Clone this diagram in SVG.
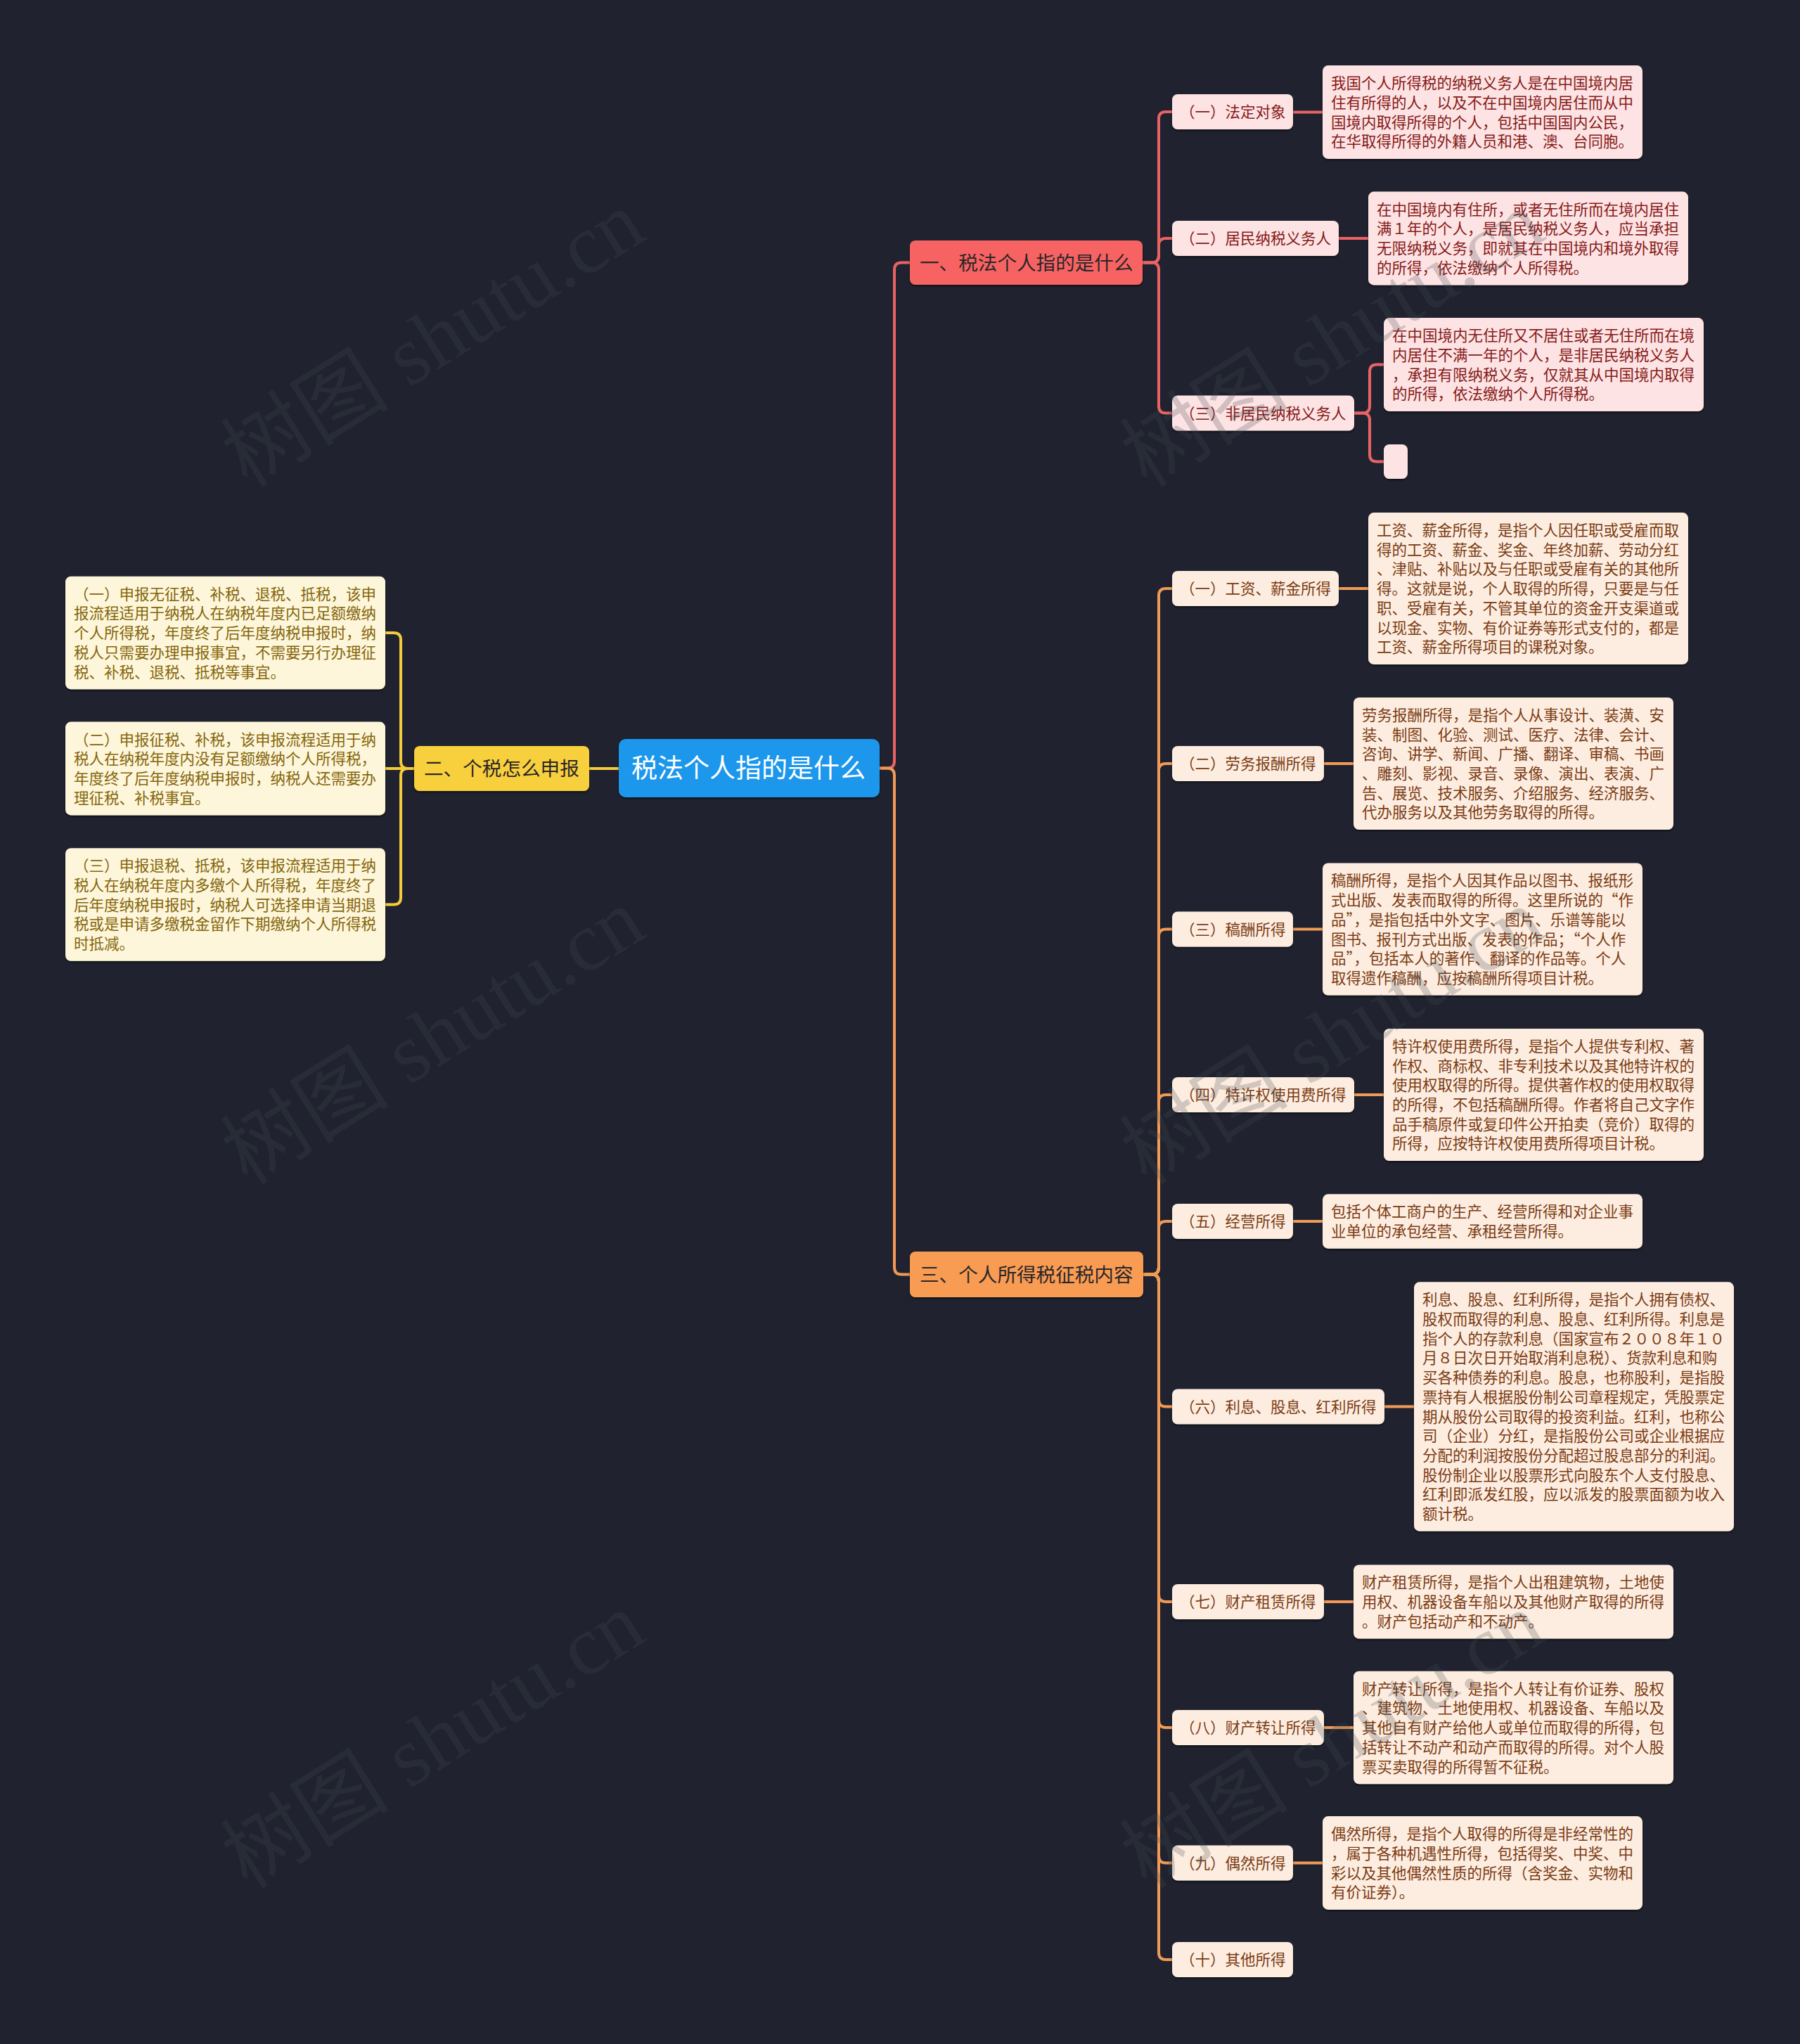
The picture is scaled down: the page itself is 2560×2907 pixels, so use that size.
<svg xmlns="http://www.w3.org/2000/svg" width="2560" height="2907" viewBox="0 0 2560 2907">
<defs>
<filter id="sh" x="-5%" y="-10%" width="110%" height="130%">
<feDropShadow dx="0" dy="2" stdDeviation="1.5" flood-color="#000" flood-opacity="0.55"/>
</filter>
</defs>
<style>
text{font-family:"Liberation Sans","Noto Sans CJK SC",sans-serif;}
.q{font-family:"Noto Sans CJK SC","Liberation Sans",sans-serif;}
.c{fill:none;stroke-width:4;stroke-linecap:round;stroke-linejoin:round;}
.cr{stroke:#e96363;}
.cy{stroke:#f3cb3b;}
.co{stroke:#f09a56;}
.box{filter:url(#sh);}
.root{fill:#1d97ec;}
.rootT{fill:#ffffff;font-size:37px;}
.l1r{fill:#f76464;}
.l1y{fill:#f8cf3e;}
.l1o{fill:#f89b52;}
.l1T{fill:#2a2628;font-size:27.6px;}
.pr{fill:#fde3e3;}
.py{fill:#fdf6da;}
.po{fill:#fdede0;}
.tr{fill:#861a1a;font-size:21.5px;}
.ty{fill:#85660c;font-size:21.5px;}
.to{fill:#7b3c14;font-size:21.5px;}
.wm{font-family:"Liberation Serif","Noto Sans CJK SC",serif;font-size:120px;fill:#444a55;fill-opacity:0.24;}
</style>
<rect width="2560" height="2907" fill="#20232f"/>

<g id="connectors">
<path class="c cr" d="M1251,1092.5 H1262 Q1272,1092.5 1272,1082.5 V383.5 Q1272,373.5 1282,373.5 H1294"/>
<path class="c co" d="M1251,1092.5 H1262 Q1272,1092.5 1272,1102.5 V1802.5 Q1272,1812.5 1282,1812.5 H1294"/>
<path class="c cy" d="M880,1093 H838"/>
<path class="c cy" d="M589,1093 H580 Q570,1093 570,1083 V910 Q570,900 560,900 H548"/>
<path class="c cy" d="M589,1093 H548"/>
<path class="c cy" d="M589,1093 H580 Q570,1093 570,1103 V1276.5 Q570,1286.5 560,1286.5 H548"/>
<path class="c cr" d="M1625,373.5 H1638 Q1648,373.5 1648,363.5 V169 Q1648,159 1658,159 H1667"/>
<path class="c cr" d="M1625,373.5 H1638 Q1648,373.5 1648,363.5 V349 Q1648,339 1658,339 H1667"/>
<path class="c cr" d="M1625,373.5 H1638 Q1648,373.5 1648,383.5 V577.5 Q1648,587.5 1658,587.5 H1667"/>
<path class="c cr" d="M1839,159.5 H1881"/>
<path class="c cr" d="M1904,339 H1946"/>
<path class="c cr" d="M1926,587.5 H1938 Q1948,587.5 1948,577.5 V528.5 Q1948,518.5 1958,518.5 H1968"/>
<path class="c cr" d="M1926,587.5 H1938 Q1948,587.5 1948,597.5 V646.5 Q1948,656.5 1958,656.5 H1968"/>
<path class="c co" d="M1626,1812.5 H1638 Q1648,1812.5 1648,1802.5 V847 Q1648,837 1658,837 H1667"/>
<path class="c co" d="M1626,1812.5 H1638 Q1648,1812.5 1648,1802.5 V1096 Q1648,1086 1658,1086 H1667"/>
<path class="c co" d="M1626,1812.5 H1638 Q1648,1812.5 1648,1802.5 V1331.5 Q1648,1321.5 1658,1321.5 H1667"/>
<path class="c co" d="M1626,1812.5 H1638 Q1648,1812.5 1648,1802.5 V1567 Q1648,1557 1658,1557 H1667"/>
<path class="c co" d="M1626,1812.5 H1638 Q1648,1812.5 1648,1802.5 V1747 Q1648,1737 1658,1737 H1667"/>
<path class="c co" d="M1626,1812.5 H1638 Q1648,1812.5 1648,1822.5 V1990.5 Q1648,2000.5 1658,2000.5 H1667"/>
<path class="c co" d="M1626,1812.5 H1638 Q1648,1812.5 1648,1822.5 V2268 Q1648,2278 1658,2278 H1667"/>
<path class="c co" d="M1626,1812.5 H1638 Q1648,1812.5 1648,1822.5 V2447 Q1648,2457 1658,2457 H1667"/>
<path class="c co" d="M1626,1812.5 H1638 Q1648,1812.5 1648,1822.5 V2639.5 Q1648,2649.5 1658,2649.5 H1667"/>
<path class="c co" d="M1626,1812.5 H1638 Q1648,1812.5 1648,1822.5 V2777 Q1648,2787 1658,2787 H1667"/>
<path class="c co" d="M1904,837 H1946"/>
<path class="c co" d="M1883,1086 H1925"/>
<path class="c co" d="M1839,1321.5 H1881"/>
<path class="c co" d="M1926,1557 H1968"/>
<path class="c co" d="M1839,1737 H1881"/>
<path class="c co" d="M1969,2000.5 H2011"/>
<path class="c co" d="M1883,2278 H1925"/>
<path class="c co" d="M1883,2457 H1925"/>
<path class="c co" d="M1839,2649.5 H1881"/>
</g>

<g id="root">
<rect class="root box" x="880" y="1051" width="371" height="83" rx="10"/>
<text class="rootT" x="898" y="1106">税法个人指的是什么</text>
</g>

<g id="n1">
<rect class="l1r box" x="1294" y="342" width="331" height="63" rx="8"/>
<text class="l1T" x="1308" y="383.5">一、税法个人指的是什么</text>
</g>
<g id="n2">
<rect class="l1y box" x="589" y="1061" width="249" height="64" rx="8"/>
<text class="l1T" x="603" y="1103">二、个税怎么申报</text>
</g>
<g id="n3">
<rect class="l1o box" x="1294" y="1780" width="332" height="65" rx="8"/>
<text class="l1T" x="1308" y="1822.5">三、个人所得税征税内容</text>
</g>

<g id="y1">
<rect class="py box" x="93" y="819.75" width="455" height="160.5" rx="8"/>
<text class="ty" x="105"><tspan x="105" y="852.75">（一）申报无征税、补税、退税、抵税，该申</tspan><tspan x="105" y="880.45">报流程适用于纳税人在纳税年度内已足额缴纳</tspan><tspan x="105" y="908.15">个人所得税，年度终了后年度纳税申报时，纳</tspan><tspan x="105" y="935.85">税人只需要办理申报事宜，不需要另行办理征</tspan><tspan x="105" y="963.55">税、补税、退税、抵税等事宜。</tspan></text>
</g>
<g id="y2">
<rect class="py box" x="93" y="1026.6" width="455" height="132.8" rx="8"/>
<text class="ty" x="105"><tspan x="105" y="1059.6">（二）申报征税、补税，该申报流程适用于纳</tspan><tspan x="105" y="1087.3">税人在纳税年度内没有足额缴纳个人所得税，</tspan><tspan x="105" y="1115">年度终了后年度纳税申报时，纳税人还需要办</tspan><tspan x="105" y="1142.7">理征税、补税事宜。</tspan></text>
</g>
<g id="y3">
<rect class="py box" x="93" y="1206.25" width="455" height="160.5" rx="8"/>
<text class="ty" x="105"><tspan x="105" y="1239.25">（三）申报退税、抵税，该申报流程适用于纳</tspan><tspan x="105" y="1266.95">税人在纳税年度内多缴个人所得税，年度终了</tspan><tspan x="105" y="1294.65">后年度纳税申报时，纳税人可选择申请当期退</tspan><tspan x="105" y="1322.35">税或是申请多缴税金留作下期缴纳个人所得税</tspan><tspan x="105" y="1350.05">时抵减。</tspan></text>
</g>

<g id="r1">
<rect class="pr box" x="1667" y="134" width="172" height="50" rx="8"/>
<text class="tr" x="1678" y="167">（一）法定对象</text>
</g>
<g id="r2">
<rect class="pr box" x="1667" y="314" width="237" height="50" rx="8"/>
<text class="tr" x="1678" y="347">（二）居民纳税义务人</text>
</g>
<g id="r3">
<rect class="pr box" x="1667" y="562.5" width="259" height="50" rx="8"/>
<text class="tr" x="1678" y="595.5">（三）非居民纳税义务人</text>
</g>
<g id="r1a">
<rect class="pr box" x="1881" y="93.1" width="455" height="132.8" rx="8"/>
<text class="tr"><tspan x="1893" y="126.1">我国个人所得税的纳税义务人是在中国境内居</tspan><tspan x="1893" y="153.8">住有所得的人，以及不在中国境内居住而从中</tspan><tspan x="1893" y="181.5">国境内取得所得的个人，包括中国国内公民，</tspan><tspan x="1893" y="209.2">在华取得所得的外籍人员和港、澳、台同胞。</tspan></text>
</g>
<g id="r2a">
<rect class="pr box" x="1946" y="272.6" width="455" height="132.8" rx="8"/>
<text class="tr"><tspan x="1958" y="305.6">在中国境内有住所，或者无住所而在境内居住</tspan><tspan x="1958" y="333.3">满１年的个人，是居民纳税义务人，应当承担</tspan><tspan x="1958" y="361">无限纳税义务，即就其在中国境内和境外取得</tspan><tspan x="1958" y="388.7">的所得，依法缴纳个人所得税。</tspan></text>
</g>
<g id="r3a">
<rect class="pr box" x="1968" y="452.1" width="455" height="132.8" rx="8"/>
<text class="tr"><tspan x="1980" y="485.1">在中国境内无住所又不居住或者无住所而在境</tspan><tspan x="1980" y="512.8">内居住不满一年的个人，是非居民纳税义务人</tspan><tspan x="1980" y="540.5">，承担有限纳税义务，仅就其从中国境内取得</tspan><tspan x="1980" y="568.2">的所得，依法缴纳个人所得税。</tspan></text>
</g>
<g id="r3b">
<rect class="pr box" x="1968" y="632" width="34" height="49" rx="8"/>
</g>

<g id="o1">
<rect class="po box" x="1667" y="812" width="237" height="50" rx="8"/>
<text class="to" x="1678" y="845">（一）工资、薪金所得</text>
</g>
<g id="o1a">
<rect class="po box" x="1946" y="729.05" width="455" height="215.9" rx="8"/>
<text class="to"><tspan x="1958" y="762.05">工资、薪金所得，是指个人因任职或受雇而取</tspan><tspan x="1958" y="789.75">得的工资、薪金、奖金、年终加薪、劳动分红</tspan><tspan x="1958" y="817.45">、津贴、补贴以及与任职或受雇有关的其他所</tspan><tspan x="1958" y="845.15">得。这就是说，个人取得的所得，只要是与任</tspan><tspan x="1958" y="872.85">职、受雇有关，不管其单位的资金开支渠道或</tspan><tspan x="1958" y="900.55">以现金、实物、有价证券等形式支付的，都是</tspan><tspan x="1958" y="928.25">工资、薪金所得项目的课税对象。</tspan></text>
</g>
<g id="o2">
<rect class="po box" x="1667" y="1061" width="216" height="50" rx="8"/>
<text class="to" x="1678" y="1094">（二）劳务报酬所得</text>
</g>
<g id="o2a">
<rect class="po box" x="1925" y="991.9" width="455" height="188.2" rx="8"/>
<text class="to"><tspan x="1937" y="1024.9">劳务报酬所得，是指个人从事设计、装潢、安</tspan><tspan x="1937" y="1052.6">装、制图、化验、测试、医疗、法律、会计、</tspan><tspan x="1937" y="1080.3">咨询、讲学、新闻、广播、翻译、审稿、书画</tspan><tspan x="1937" y="1108">、雕刻、影视、录音、录像、演出、表演、广</tspan><tspan x="1937" y="1135.7">告、展览、技术服务、介绍服务、经济服务、</tspan><tspan x="1937" y="1163.4">代办服务以及其他劳务取得的所得。</tspan></text>
</g>
<g id="o3">
<rect class="po box" x="1667" y="1296.5" width="172" height="50" rx="8"/>
<text class="to" x="1678" y="1329.5">（三）稿酬所得</text>
</g>
<g id="o3a">
<rect class="po box" x="1881" y="1227.4" width="455" height="188.2" rx="8"/>
<text class="to q"><tspan x="1893" y="1260.4">稿酬所得，是指个人因其作品以图书、报纸形</tspan><tspan x="1893" y="1288.1">式出版、发表而取得的所得。这里所说的“作</tspan><tspan x="1893" y="1315.8">品”，是指包括中外文字、图片、乐谱等能以</tspan><tspan x="1893" y="1343.5">图书、报刊方式出版、发表的作品；“个人作</tspan><tspan x="1893" y="1371.2">品”，包括本人的著作、翻译的作品等。个人</tspan><tspan x="1893" y="1398.9">取得遗作稿酬，应按稿酬所得项目计税。</tspan></text>
</g>
<g id="o4">
<rect class="po box" x="1667" y="1532" width="259" height="50" rx="8"/>
<text class="to" x="1678" y="1565">（四）特许权使用费所得</text>
</g>
<g id="o4a">
<rect class="po box" x="1968" y="1462.9" width="455" height="188.2" rx="8"/>
<text class="to"><tspan x="1980" y="1495.9">特许权使用费所得，是指个人提供专利权、著</tspan><tspan x="1980" y="1523.6">作权、商标权、非专利技术以及其他特许权的</tspan><tspan x="1980" y="1551.3">使用权取得的所得。提供著作权的使用权取得</tspan><tspan x="1980" y="1579">的所得，不包括稿酬所得。作者将自己文字作</tspan><tspan x="1980" y="1606.7">品手稿原件或复印件公开拍卖（竞价）取得的</tspan><tspan x="1980" y="1634.4">所得，应按特许权使用费所得项目计税。</tspan></text>
</g>
<g id="o5">
<rect class="po box" x="1667" y="1712" width="172" height="50" rx="8"/>
<text class="to" x="1678" y="1745">（五）经营所得</text>
</g>
<g id="o5a">
<rect class="po box" x="1881" y="1698.3" width="455" height="77.4" rx="8"/>
<text class="to"><tspan x="1893" y="1731.3">包括个体工商户的生产、经营所得和对企业事</tspan><tspan x="1893" y="1759">业单位的承包经营、承租经营所得。</tspan></text>
</g>
<g id="o6">
<rect class="po box" x="1667" y="1975.5" width="302" height="50" rx="8"/>
<text class="to" x="1678" y="2008.5">（六）利息、股息、红利所得</text>
</g>
<g id="o6a">
<rect class="po box" x="2011" y="1823.3" width="455" height="354.4" rx="8"/>
<text class="to"><tspan x="2023" y="1856.3">利息、股息、红利所得，是指个人拥有债权、</tspan><tspan x="2023" y="1884">股权而取得的利息、股息、红利所得。利息是</tspan><tspan x="2023" y="1911.7">指个人的存款利息（国家宣布２００８年１０</tspan><tspan x="2023" y="1939.4">月８日次日开始取消利息税）、货款利息和购</tspan><tspan x="2023" y="1967.1">买各种债券的利息。股息，也称股利，是指股</tspan><tspan x="2023" y="1994.8">票持有人根据股份制公司章程规定，凭股票定</tspan><tspan x="2023" y="2022.5">期从股份公司取得的投资利益。红利，也称公</tspan><tspan x="2023" y="2050.2">司（企业）分红，是指股份公司或企业根据应</tspan><tspan x="2023" y="2077.9">分配的利润按股份分配超过股息部分的利润。</tspan><tspan x="2023" y="2105.6">股份制企业以股票形式向股东个人支付股息、</tspan><tspan x="2023" y="2133.3">红利即派发红股，应以派发的股票面额为收入</tspan><tspan x="2023" y="2161">额计税。</tspan></text>
</g>
<g id="o7">
<rect class="po box" x="1667" y="2253" width="216" height="50" rx="8"/>
<text class="to" x="1678" y="2286">（七）财产租赁所得</text>
</g>
<g id="o7a">
<rect class="po box" x="1925" y="2225.45" width="455" height="105.1" rx="8"/>
<text class="to"><tspan x="1937" y="2258.45">财产租赁所得，是指个人出租建筑物，土地使</tspan><tspan x="1937" y="2286.15">用权、机器设备车船以及其他财产取得的所得</tspan><tspan x="1937" y="2313.85">。财产包括动产和不动产。</tspan></text>
</g>
<g id="o8">
<rect class="po box" x="1667" y="2432" width="216" height="50" rx="8"/>
<text class="to" x="1678" y="2465">（八）财产转让所得</text>
</g>
<g id="o8a">
<rect class="po box" x="1925" y="2376.75" width="455" height="160.5" rx="8"/>
<text class="to"><tspan x="1937" y="2409.75">财产转让所得，是指个人转让有价证券、股权</tspan><tspan x="1937" y="2437.45">、建筑物、土地使用权、机器设备、车船以及</tspan><tspan x="1937" y="2465.15">其他自有财产给他人或单位而取得的所得，包</tspan><tspan x="1937" y="2492.85">括转让不动产和动产而取得的所得。对个人股</tspan><tspan x="1937" y="2520.55">票买卖取得的所得暂不征税。</tspan></text>
</g>
<g id="o9">
<rect class="po box" x="1667" y="2624.5" width="172" height="50" rx="8"/>
<text class="to" x="1678" y="2657.5">（九）偶然所得</text>
</g>
<g id="o9a">
<rect class="po box" x="1881" y="2583.1" width="455" height="132.8" rx="8"/>
<text class="to"><tspan x="1893" y="2616.1">偶然所得，是指个人取得的所得是非经常性的</tspan><tspan x="1893" y="2643.8">，属于各种机遇性所得，包括得奖、中奖、中</tspan><tspan x="1893" y="2671.5">彩以及其他偶然性质的所得（含奖金、实物和</tspan><tspan x="1893" y="2699.2">有价证券）。</tspan></text>
</g>
<g id="o10">
<rect class="po box" x="1667" y="2762" width="172" height="50" rx="8"/>
<text class="to" x="1678" y="2795">（十）其他所得</text>
</g>

<g id="watermarks">
<text class="wm" transform="translate(352,695) rotate(-32)">树图 shutu.cn</text>
<text class="wm" transform="translate(352,1687) rotate(-32)">树图 shutu.cn</text>
<text class="wm" transform="translate(352,2688) rotate(-32)">树图 shutu.cn</text>
<text class="wm" transform="translate(1631,695) rotate(-32)">树图 shutu.cn</text>
<text class="wm" transform="translate(1631,1687) rotate(-32)">树图 shutu.cn</text>
<text class="wm" transform="translate(1631,2688) rotate(-32)">树图 shutu.cn</text>
</g>
</svg>
